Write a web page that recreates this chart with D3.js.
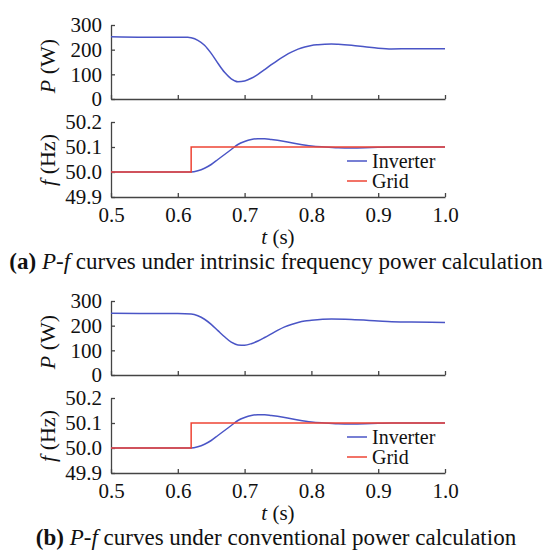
<!DOCTYPE html>
<html>
<head>
<meta charset="utf-8">
<script src="https://cdn.jsdelivr.net/npm/d3@7"></script>
<style>
  html, body { margin: 0; padding: 0; background: #fff; }
  svg { display: block; }
</style>
</head>
<body>
<svg id="chart" width="544" height="552"></svg>
<script>
// ---- data ----
const timeTicks = [0.5, 0.6, 0.7, 0.8, 0.9, 1.0];
const powerTicks = [0, 100, 200, 300];
const freqTicks = [49.9, 50.0, 50.1, 50.2];

const tA = [0.50, 0.55, 0.60, 0.615, 0.62, 0.63, 0.64, 0.65, 0.66, 0.67, 0.68, 0.69, 0.70, 0.71, 0.72, 0.73, 0.74, 0.75, 0.76, 0.77, 0.78, 0.79, 0.80, 0.81, 0.82, 0.83, 0.84, 0.86, 0.88, 0.90, 0.92, 0.95, 1.00];
const powerA = [252, 250, 250, 250, 248, 238, 218, 185, 145, 108, 82, 70, 73, 84, 100, 119, 139, 158, 175, 190, 202, 211, 217, 220, 222, 223, 222, 218, 212, 206, 203, 204, 204];

const tB = [0.50, 0.60, 0.62, 0.63, 0.64, 0.65, 0.66, 0.67, 0.68, 0.69, 0.70, 0.71, 0.72, 0.73, 0.74, 0.75, 0.76, 0.77, 0.78, 0.79, 0.80, 0.83, 0.86, 0.90, 0.92, 0.95, 1.00];
const powerB = [250, 249, 247, 240, 226, 205, 180, 155, 133, 122, 121, 127, 138, 152, 167, 182, 195, 205, 213, 219, 222, 227, 225, 219, 216, 215, 213];

const tF = [0.50, 0.62, 0.63, 0.64, 0.65, 0.66, 0.67, 0.68, 0.69, 0.70, 0.71, 0.72, 0.73, 0.74, 0.76, 0.78, 0.80, 0.82, 0.84, 0.86, 0.88, 0.90, 0.92, 1.00];
const inverterFreq = [50.0, 50.0, 50.005, 50.015, 50.03, 50.05, 50.07, 50.09, 50.11, 50.122, 50.13, 50.133, 50.133, 50.13, 50.122, 50.112, 50.104, 50.1, 50.097, 50.096, 50.097, 50.099, 50.1, 50.1];

const tGrid = [0.50, 0.62, 1.00];
const gridFreq = [50.0, 50.1, 50.1];

const seriesNames = ["Inverter", "Grid"];
const captions = [
  { tag: "(a)", rest: " curves under intrinsic frequency power calculation" },
  { tag: "(b)", rest: " curves under conventional power calculation" }
];

// ---- layout ----
const BLUE = "#4a55c6", RED = "#ee4434", AXIS = "#444";
const FONT = '"Liberation Serif"';
const FS = 21;
const svg = d3.select("#chart");
const x = d3.scaleLinear().domain([0.5, 1.0]).range([111, 445]);

const panels = [
  { off: 0, t: tA, p: powerA },
  { off: 276, t: tB, p: powerB }
];

function txt(sel) {
  return sel.style("font-family", FONT).attr("fill", "#111");
}

panels.forEach((pn, i) => {
  const g = svg.append("g").attr("transform", `translate(0,${pn.off})`);
  const yP = d3.scaleLinear().domain([0, 300]).range([99, 25]);
  const yF = d3.scaleLinear().domain([49.9, 50.2]).range([197, 122]);

  const axXTop = g.append("g").attr("transform", `translate(0,${yP(0)})`)
    .call(d3.axisBottom(x).tickValues(timeTicks).tickSizeInner(-4).tickSizeOuter(0).tickFormat(""));
  const axYTop = g.append("g").attr("transform", `translate(${x(0.5)},0)`)
    .call(d3.axisLeft(yP).tickValues(powerTicks).tickSizeInner(-4).tickSizeOuter(0).tickPadding(9).tickFormat(d3.format("d")));
  const axXBot = g.append("g").attr("transform", `translate(0,${yF(49.9)})`)
    .call(d3.axisBottom(x).tickValues(timeTicks).tickSizeInner(-4).tickSizeOuter(0).tickPadding(10).tickFormat(d3.format(".1f")));
  const axYBot = g.append("g").attr("transform", `translate(${x(0.5)},0)`)
    .call(d3.axisLeft(yF).tickValues(freqTicks).tickSizeInner(-4).tickSizeOuter(0).tickPadding(9).tickFormat(d3.format(".1f")));

  [axXTop, axYTop, axXBot, axYBot].forEach(a => {
    a.attr("font-family", null);
    a.selectAll("path.domain").attr("stroke", AXIS).attr("stroke-width", 1.3);
    a.selectAll(".tick line").attr("stroke", AXIS).attr("stroke-width", 1.3);
    txt(a.selectAll(".tick text")).attr("font-size", FS);
  });

  const line = (sx, sy, c) => d3.line().x(d => sx(d[0])).y(d => sy(d[1])).curve(c);

  const pData = pn.t.map((t, k) => [t, pn.p[k]]);
  g.append("path").datum(pData)
    .attr("fill", "none").attr("stroke", BLUE).attr("stroke-width", 1.5)
    .attr("d", line(x, yP, d3.curveMonotoneX));

  const fData = tF.map((t, k) => [t, inverterFreq[k]]);
  g.append("path").datum(fData)
    .attr("fill", "none").attr("stroke", BLUE).attr("stroke-width", 1.5)
    .attr("d", line(x, yF, d3.curveMonotoneX));
  const gData = tGrid.map((t, k) => [t, gridFreq[k]]);
  g.append("path").datum(gData)
    .attr("fill", "none").attr("stroke", RED).attr("stroke-width", 1.5)
    .attr("d", line(x, yF, d3.curveStepAfter));

  // Legend
  [BLUE, RED].forEach((c, k) => {
    const yy = 161 + k * 20;
    g.append("line").attr("x1", 347).attr("x2", 367).attr("y1", yy).attr("y2", yy)
      .attr("stroke", c).attr("stroke-width", 1.5);
    txt(g.append("text")).attr("x", 372).attr("y", yy).attr("dy", "0.33em")
      .attr("font-size", 20).text(seriesNames[k]);
  });

  // Y labels
  const yl1 = txt(g.append("text")).attr("transform", `translate(55,66) rotate(-90)`)
    .attr("text-anchor", "middle").attr("font-size", 22);
  yl1.append("tspan").attr("font-style", "italic").text("P");
  yl1.append("tspan").text(" (W)");
  const yl2 = txt(g.append("text")).attr("transform", `translate(55,160) rotate(-90)`)
    .attr("text-anchor", "middle").attr("font-size", 22);
  yl2.append("tspan").attr("font-style", "italic").text("f");
  yl2.append("tspan").text(" (Hz)");

  // X label
  const xl = txt(g.append("text")).attr("x", x(0.75)).attr("y", 244)
    .attr("text-anchor", "middle").attr("font-size", FS);
  xl.append("tspan").attr("font-style", "italic").text("t");
  xl.append("tspan").text(" (s)");

  // Caption
  const cap = txt(g.append("text")).attr("x", 276).attr("y", 269)
    .attr("text-anchor", "middle").attr("font-size", 23);
  cap.append("tspan").attr("font-weight", "bold").text(captions[i].tag);
  cap.append("tspan").text(" ");
  cap.append("tspan").attr("font-style", "italic").text("P-f");
  cap.append("tspan").text(captions[i].rest);
});
</script>
</body>
</html>
